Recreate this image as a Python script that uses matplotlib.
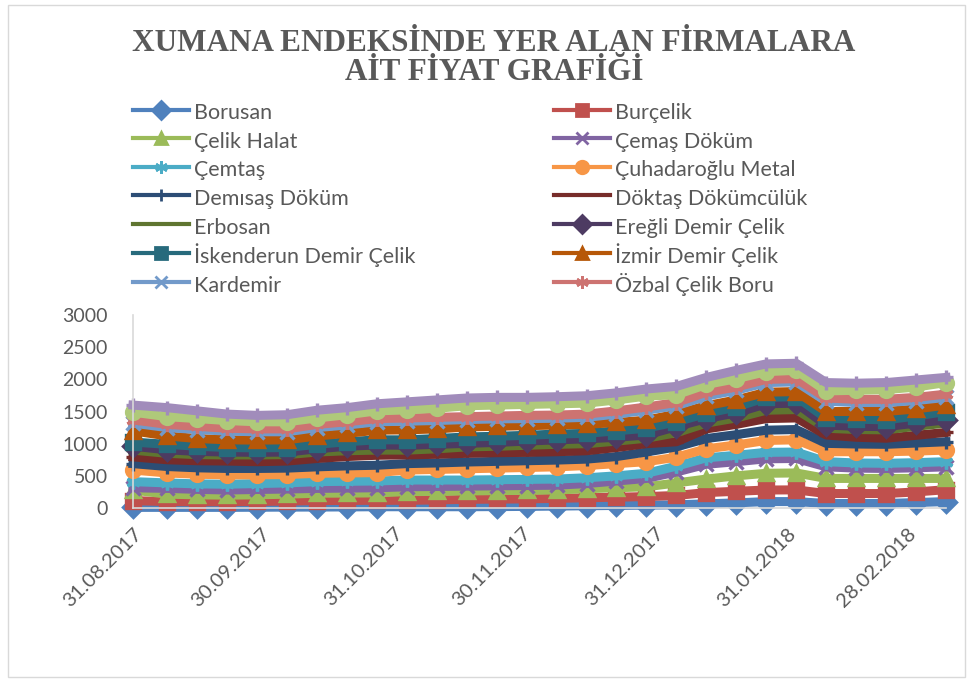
import pandas as pd
import matplotlib.pyplot as plt
from matplotlib.lines import Line2D
from matplotlib.patches import Rectangle

plt.rcParams["font.family"] = ["Lato", "DejaVu Sans"]

# Weekly readings of the stacked line chart (line levels as drawn)
dates = ["31.08.2017", "08.09.2017", "15.09.2017", "22.09.2017", "29.09.2017",
         "06.10.2017", "13.10.2017", "20.10.2017", "27.10.2017",
         "03.11.2017", "10.11.2017", "17.11.2017", "24.11.2017",
         "01.12.2017", "08.12.2017", "15.12.2017", "22.12.2017", "29.12.2017",
         "05.01.2018", "12.01.2018", "19.01.2018", "26.01.2018",
         "02.02.2018", "09.02.2018", "16.02.2018", "23.02.2018",
         "02.03.2018", "09.03.2018"]
tick_dates = ["31.08.2017", "30.09.2017", "31.10.2017", "30.11.2017",
              "31.12.2017", "31.01.2018", "28.02.2018"]

firms = ["Borusan", "Burçelik", "Çelik Halat", "Çemaş Döküm", "Çemtaş",
         "Çuhadaroğlu Metal", "Demısaş Döküm", "Döktaş Dökümcülük", "Erbosan",
         "Ereğli Demir Çelik", "İskenderun Demir Çelik", "İzmir Demir Çelik",
         "Kardemir", "Özbal Çelik Boru"]

borusan = [10, 10, 10, 10, 12, 14, 15, 17, 20, 20, 20, 20, 22, 25, 30, 35, 40, 45,
           50, 65, 80, 100, 100, 70, 70, 70, 85, 100]
burcelik = [115, 100, 98, 98, 102, 108, 115, 118, 120, 120, 125, 135, 138, 142, 150,
            160, 168, 178, 195, 240, 260, 280, 282, 225, 225, 225, 250, 285]
celik_halat = [280, 215, 205, 200, 205, 215, 230, 232, 235, 255, 258, 265, 270, 275,
               280, 300, 315, 330, 390, 450, 500, 540, 545, 460, 460, 460, 460, 460]
cemas = [315, 305, 290, 280, 288, 295, 305, 310, 315, 330, 335, 340, 345, 350, 355,
         380, 420, 460, 560, 680, 720, 765, 770, 640, 620, 615, 625, 640]
cemtas = [410, 390, 375, 370, 380, 390, 410, 415, 420, 435, 435, 435, 440, 445, 450,
          470, 500, 540, 650, 780, 820, 865, 870, 720, 700, 695, 705, 720]
cuhadaroglu = [590, 545, 525, 515, 515, 520, 540, 545, 550, 590, 600, 610, 620, 630,
               640, 660, 690, 720, 790, 920, 980, 1050, 1060, 875, 875, 875, 885, 900]
demisas = [690, 645, 625, 615, 615, 620, 640, 655, 665, 690, 700, 715, 725, 735, 745,
           760, 800, 870, 950, 1080, 1140, 1210, 1220, 1005, 995, 990, 1010, 1030]
doktas = [795, 750, 735, 730, 720, 730, 770, 800, 820, 825, 835, 850, 860, 865, 875,
          890, 940, 1000, 1030, 1230, 1300, 1390, 1400, 1135, 1100, 1085, 1130, 1175]
erbosan = [900, 850, 830, 825, 825, 830, 870, 890, 900, 900, 920, 950, 960, 975, 990,
           1000, 1040, 1085, 1170, 1320, 1400, 1520, 1530, 1240, 1220, 1215, 1270, 1320]
eregli = [960, 905, 880, 870, 865, 870, 920, 960, 980, 975, 990, 1005, 1020, 1040,
          1060, 1075, 1100, 1135, 1265, 1390, 1480, 1620, 1630, 1290, 1270, 1265, 1320, 1370]
iskenderun = [1025, 990, 960, 940, 935, 940, 990, 1030, 1060, 1060, 1080, 1105, 1115,
              1130, 1150, 1160, 1200, 1240, 1340, 1470, 1570, 1720, 1730, 1395, 1380,
              1370, 1430, 1500]
izmir = [1200, 1120, 1080, 1060, 1055, 1060, 1120, 1160, 1210, 1215, 1230, 1260, 1270,
         1280, 1290, 1300, 1330, 1365, 1460, 1590, 1680, 1800, 1810, 1500, 1500, 1500,
         1540, 1600]
kardemir = [1320, 1250, 1220, 1195, 1185, 1185, 1250, 1290, 1340, 1350, 1360, 1375,
            1385, 1390, 1395, 1410, 1460, 1520, 1590, 1740, 1830, 1950, 1960, 1660,
            1640, 1640, 1670, 1720]
ozbal = [1370, 1300, 1270, 1240, 1230, 1230, 1300, 1340, 1390, 1400, 1410, 1420, 1430,
         1440, 1445, 1460, 1510, 1570, 1640, 1800, 1880, 2000, 2010, 1710, 1690, 1690,
         1720, 1770]
# two more series are drawn but Excel's legend leaves them out
seri_15 = [1490, 1420, 1390, 1360, 1340, 1340, 1400, 1450, 1510, 1525, 1550, 1590, 1600,
           1610, 1620, 1630, 1680, 1740, 1760, 1920, 2010, 2120, 2140, 1820, 1830, 1840,
           1880, 1950]
seri_16 = [1600, 1560, 1510, 1460, 1440, 1450, 1520, 1560, 1620, 1650, 1680, 1710, 1720,
           1720, 1730, 1745, 1790, 1850, 1890, 2030, 2140, 2240, 2250, 1950, 1940, 1950,
           1990, 2030]

series = [borusan, burcelik, celik_halat, cemas, cemtas, cuhadaroglu, demisas, doktas,
          erbosan, eregli, iskenderun, izmir, kardemir, ozbal, seri_15, seri_16]

colors = ["#4F81BD", "#C0504D", "#9BBB59", "#8064A2", "#4BACC6", "#F79646",
          "#2C4D75", "#772C2A", "#5F7530", "#4D3B62", "#276A7C", "#B65708",
          "#729ACA", "#CD7371", "#AFC97A", "#A18CBB"]
star = (6, 2, 0)
markers = ["D", "s", "^", "x", star, "o", "+", "_",
           "_", "D", "s", "^", "x", star, "o", "+"]

x = pd.to_datetime(dates, format="%d.%m.%Y")
ticks = pd.to_datetime(tick_dates, format="%d.%m.%Y")

fig = plt.figure(figsize=(9.72, 6.82), dpi=100)
ax = fig.add_axes([0.1368, 0.2551, 0.8364, 0.283])

for vals, col, mk in zip(series, colors, markers):
    ax.plot(x, vals, color=col, lw=6.5, marker=mk, ms=10, mfc=col, mec=col,
            mew=2.4, clip_on=False, solid_joinstyle="round")

ax.set_xlim(x[0], x[-1])
ax.set_ylim(0, 3000)
ax.set_yticks(range(0, 3001, 500))
ax.set_xticks(ticks)
ax.set_xticklabels(tick_dates, rotation=45, ha="right", rotation_mode="anchor")
ax.tick_params(axis="y", length=0, pad=18, labelsize=14, labelcolor="#595959")
ax.tick_params(axis="x", length=0, pad=12, labelsize=14.5, labelcolor="#595959")
for s in ["top", "right"]:
    ax.spines[s].set_visible(False)
for s in ["left", "bottom"]:
    ax.spines[s].set_color("#D9D9D9")
    ax.spines[s].set_linewidth(1.2)

# Legend (two columns, row-wise order as in Excel)
handles = [Line2D([0], [0], color=c, lw=3, marker=m, ms=9, mfc=c, mec=c, mew=2)
           for c, m in zip(colors[:14], markers[:14])]
order = list(range(0, 14, 2)) + list(range(1, 14, 2))
fig.legend([handles[i] for i in order], [firms[i] for i in order], ncol=2,
           loc="upper left", bbox_to_anchor=(133 / 972, 1 - 100 / 682),
           frameon=False, fontsize=15.5, labelcolor="#595959", borderpad=0,
           borderaxespad=0, handlelength=2.6, handletextpad=0.25,
           handleheight=1.33, labelspacing=0.22, columnspacing=6.4)

fig.text(0.508, 0.915, "XUMANA ENDEKSİNDE YER ALAN FİRMALARA\nAİT FİYAT GRAFİĞİ",
         ha="center", va="center", fontsize=22.5, fontweight="bold",
         family="Liberation Serif", color="#595959", linespacing=1.0)

# chart area border
fig.patches.append(Rectangle((8 / 972, 5 / 682), 957 / 972, 672 / 682,
                             transform=fig.transFigure, fill=False,
                             edgecolor="#D9D9D9", lw=1))

fig.savefig("out.png", dpi=100)
